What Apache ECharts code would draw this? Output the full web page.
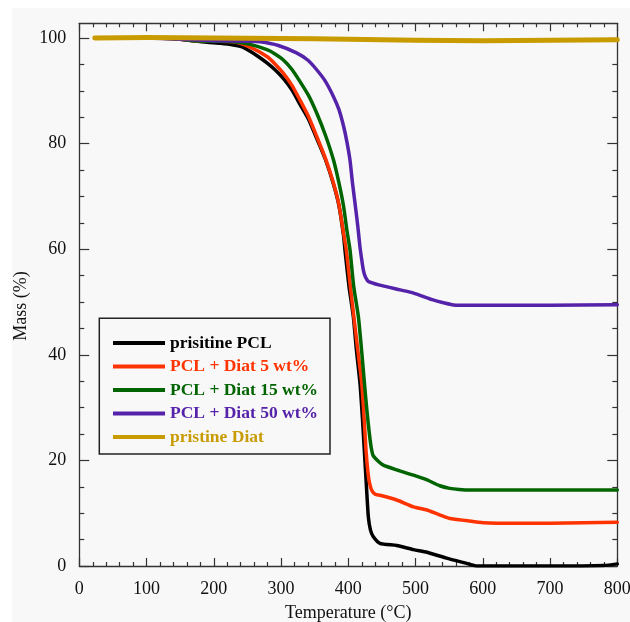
<!DOCTYPE html>
<html>
<head>
<meta charset="utf-8">
<script src="https://cdn.jsdelivr.net/npm/echarts@6/dist/echarts.min.js"></script>
<style>
html,body{margin:0;padding:0;background:#fff;}
#chart{width:630px;height:622px;}
</style>
</head>
<body>
<div id="chart"></div>
<script>
// ---- data (Temperature °C, Mass %) ----
var seriesNames = ['prisitine PCL', 'PCL + Diat 5 wt%', 'PCL + Diat 15 wt%', 'PCL + Diat 50 wt%', 'pristine Diat'];
var seriesColors = ['#000000', '#ff3300', '#006400', '#5522aa', '#c89b00'];

var pclData = [[23,100],[100,100],[150,99.8],[169,99.5],[190,99.2],[210,99],[229,98.7],[243,98.3],[254,97.5],[266,96.5],[279,95.3],[291,94],[303,92.4],[316,90.2],[328,87.5],[341,84.6],[353,81],[366,77],[378,72.3],[386,68.3],[393,62.5],[395,59.9],[401,53],[407.5,47.2],[412,41],[417.4,34.6],[421,28],[423.8,22],[427,15],[429.8,9.3],[433,6.8],[437,5.6],[447,4.3],[472,3.9],[497,3.1],[517,2.6],[546,1.5],[576,0.5],[591,0],[650,0],[700,0],[780,0.1],[800,0.4]];

var diat5Data = [[23,100],[100,100],[150,99.8],[169,99.5],[200,99.4],[229,99.3],[254,98.3],[279,96.5],[291,95.1],[303,93.4],[316,91.1],[328,88.3],[341,85.1],[353,81.4],[366,77.2],[378,72.5],[386,68.5],[393,63],[397,59.9],[403,53],[408,47.5],[414,41],[420,34.6],[423.5,28],[426.3,22],[429,18],[431.3,15.9],[435,14.3],[440,13.6],[447,13.4],[472,12.5],[497,11.2],[517,10.6],[546,9.2],[551,9.0],[575,8.6],[601,8.2],[650,8.1],[700,8.1],[750,8.2],[800,8.3]];

var diat15Data = [[23,100],[100,100],[150,99.8],[169,99.5],[200,99.4],[229,99.3],[254,98.8],[279,97.8],[291,97],[303,95.9],[316,94.1],[328,91.8],[341,89.1],[353,85.8],[366,81.6],[378,76.9],[386,72.6],[393,68.1],[398,63.5],[402.5,59.9],[408,53],[415,47.2],[420,40.5],[424,34.6],[428,29],[431.3,25.1],[434,22.5],[437,20.9],[445,19.8],[452,19.1],[472,18.2],[497,17.2],[517,16.3],[536,15.2],[551,14.7],[565,14.5],[581,14.4],[650,14.4],[700,14.4],[800,14.4]];

var diat50Data = [[23,100],[100,100],[150,99.8],[200,99.5],[250,99.4],[269,99.3],[296,98.6],[323,97.2],[340,95.8],[353,94],[366,91.8],[378,88.9],[386,86.5],[393,83.3],[398,80.3],[402.5,76.9],[406,72.8],[410,68.7],[414,64.5],[417.3,60.5],[420,58],[422.3,56.1],[425,54.9],[430,53.9],[447,53.2],[477,52.3],[497,51.7],[526,50.4],[540,49.9],[554,49.5],[566,49.4],[600,49.4],[700,49.4],[800,49.5]];

var diatData = [[23,100],[100,100.1],[200,100],[300,99.9],[400,99.8],[500,99.6],[600,99.5],[700,99.6],[800,99.7]];

var xTickLabels = [0,100,200,300,400,500,600,700,800];
var yTickLabels = [0,20,40,60,80,100];
var yMinorTicks = [5,10,15,25,30,35,45,50,55,65,70,75,85,90,95];

var allData = [pclData, diat5Data, diat15Data, diat50Data, diatData];
var lineWidths = [3.5, 3.5, 3.5, 3.5, 5];

var FONT = '"Liberation Serif", "DejaVu Serif", serif';
var AXC = '#333333';

var chart = echarts.init(document.getElementById('chart'), null, {renderer: 'canvas'});

function xAxisDef(pos, showLabel) {
  return {
    type: 'value', position: pos, min: 0, max: 800, interval: 100,
    axisLine: {show: true, onZero: false, lineStyle: {color: AXC, width: 1.3}},
    axisTick: {show: true, inside: true, length: 8, lineStyle: {color: AXC, width: 1.2}},
    minorTick: {show: true, splitNumber: 5, length: 4, lineStyle: {color: AXC, width: 1.2}},
    axisLabel: {show: showLabel, customValues: xTickLabels, color: '#111', fontFamily: FONT, fontSize: 18, margin: 14},
    splitLine: {show: false}, minorSplitLine: {show: false}
  };
}
function yAxisDef(pos, ticks, len, showLine, showLabel) {
  return {
    type: 'value', position: pos, min: 0, max: 102.8,
    axisLine: {show: showLine, onZero: false, lineStyle: {color: AXC, width: 1.3}},
    axisTick: {show: true, inside: true, length: len, customValues: ticks, lineStyle: {color: AXC, width: 1.2}},
    axisLabel: {show: showLabel, customValues: ticks, color: '#111', fontFamily: FONT, fontSize: 18, margin: 13},
    splitLine: {show: false}
  };
}

var series = seriesNames.map(function (n, i) {
  return {
    name: n, type: 'line', xAxisIndex: 0, yAxisIndex: 0,
    data: allData[i], showSymbol: false, symbol: 'none',
    smooth: 0.2,
    lineStyle: {color: seriesColors[i], width: lineWidths[i], join: 'round', cap: 'round'},
    itemStyle: {color: seriesColors[i]},
    z: 2 + i, animation: false
  };
});

var option = {
  backgroundColor: '#ffffff',
  animation: false,
  grid: {left: 79.3, right: 12.7, top: 23.3, bottom: 56, containLabel: false, outerBoundsMode: 'none'},
  xAxis: [
    Object.assign(xAxisDef('bottom', true), {
      name: 'Temperature (°C)', nameLocation: 'middle', nameGap: 38,
      nameTextStyle: {color: '#111', fontFamily: FONT, fontSize: 18}
    }),
    xAxisDef('top', false)
  ],
  yAxis: [
    yAxisDef('left', yTickLabels, 10, true, true),
    yAxisDef('right', yTickLabels, 10, true, false),
    yAxisDef('left', yMinorTicks, 5, false, false),
    yAxisDef('right', yMinorTicks, 5, false, false)
  ],
  legend: {
    show: true, orient: 'vertical', left: 108, top: 329,
    icon: 'rect', itemWidth: 52, itemHeight: 4, itemGap: 5.5,
    selectedMode: false,
    textStyle: {fontFamily: FONT, fontSize: 17.5, fontWeight: 'bold', lineHeight: 18},
    data: seriesNames.map(function (n, i) {
      return {name: n, textStyle: {color: seriesColors[i]}};
    })
  },
  graphic: [
    {type: 'rect', silent: true, z: -10, shape: {x: 12, y: 8, width: 618, height: 614}, style: {fill: '#f8f8f8'}},
    {type: 'rect', silent: true, z: 1, shape: {x: 99.3, y: 318.3, width: 230.7, height: 135.7},
      style: {fill: '#f8f8f8', stroke: '#222', lineWidth: 1.5}},
    {type: 'text', silent: true, z: 5, x: 21, y: 306, rotation: Math.PI / 2,
      style: {text: 'Mass (%)', fill: '#111', font: '18px ' + FONT, align: 'center', verticalAlign: 'middle'}}
  ],
  series: series
};
chart.setOption(option);
</script>
</body>
</html>
